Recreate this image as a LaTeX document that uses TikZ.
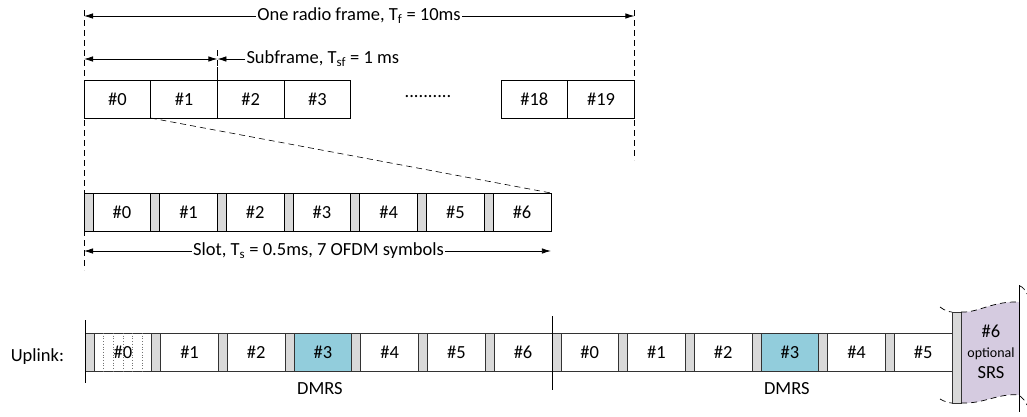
\documentclass[tikz,border=0pt]{standalone}
\usepackage{fontspec}
\setmainfont{Carlito}
\usetikzlibrary{arrows.meta, positioning, calc}
\definecolor{cpgray}{HTML}{D9D9D9}
\definecolor{dmrsblue}{HTML}{92CDDC}
\definecolor{srspurple}{HTML}{D5CBE0}

\begin{document}
\begin{tikzpicture}[
    x=1pt, y=-1pt, line width=0.7pt,
    every node/.style={font=\fontsize{18.5}{21}\selectfont, inner sep=0pt, outer sep=0pt},
    frm/.style={draw, minimum width=66.7pt, minimum height=38pt},
    cpbox/.style={draw, fill=cpgray, minimum width=9pt, minimum height=38pt},
    sym/.style={draw, minimum width=57.7pt, minimum height=38pt},
    ucp/.style={cpbox, draw=black!80},
    usym/.style={sym, draw=black!80, fill=#1},
    usym/.default=white,
    dimarrow/.style={{Latex[length=9pt,width=5.5pt]}-{Latex[length=9pt,width=5.5pt]}, line width=0.8pt},
    onearrow/.style={-{Latex[length=9pt,width=5.5pt]}, line width=0.8pt},
    guide/.style={dash pattern=on 6pt off 4pt, line width=0.6pt},
    dimlabel/.style={fill=white, inner xsep=1.5pt}
]
\useasboundingbox (0,0) rectangle (1027,416);

% Radio frame
\foreach \i/\x in {0/84, 1/150.7, 2/217.4, 3/284.1, 18/501, 19/567.7}
  \node[frm, anchor=north west] (f\i) at (\x,80) {\#\i};
\node (dots) at (428,97) {..........};

\coordinate (fa) at (84,16);
\coordinate (fb) at (634.4,16);
\draw[dimarrow] (fa) -- (fb);
\node[dimlabel] (frame) at (359,16) {One radio frame, T\textsubscript{f} = 10ms};
\draw[guide] (84,10) -- (84,270);
\draw[guide] (634.4,10) -- (634.4,160);

% Subframe
\coordinate (sa) at (84,59);
\coordinate (sb) at (217.4,59);
\draw[dimarrow] (sa) -- (sb);
\node[anchor=west, inner xsep=1.5pt] (sf) at (245,59) {Subframe, T\textsubscript{sf} = 1 ms};
\draw[onearrow] (sf.west) -- (sb);
\draw[guide] (217.4,50) -- (217.4,67);
\draw (217.4,67) -- (f2.north west);

% Slot
\foreach \i in {0,...,6} {
  \node[cpbox, anchor=north west] (cp\i) at ({84+66.7*\i},193) {};
  \node[sym, anchor=west] (s\i) at (cp\i.east) {\#\i};
}
\draw[guide] (f1.south west) -- (s6.north east);

\coordinate (la) at (84,251);
\coordinate (lb) at (s6.east |- la);
\draw[dimarrow] (la) -- (lb);
\node[dimlabel] (slot) at (318.5,251) {Slot, T\textsubscript{s} = 0.5ms, 7 OFDM symbols};

% Uplink
\node[anchor=base east] (ul) at (64,361) {Uplink:};
\foreach \i in {0,...,6} {
  \node[ucp, anchor=north west] (ucp\i) at ({85+66.7*\i},333) {};
  \node[usym, anchor=west] (u\i) at (ucp\i.east) {\#\i};
}
\foreach \i in {0,...,5} {
  \node[ucp, anchor=north west] (vcp\i) at ({551.9+66.7*\i},333) {};
  \node[usym, anchor=west] (v\i) at (vcp\i.east) {\#\i};
}
\node[usym=dmrsblue, anchor=west] at (ucp3.east) {\#3};
\node[usym=dmrsblue, anchor=west] at (vcp3.east) {\#3};
\node[below=11pt of u3, xshift=-3pt] (dm1) {DMRS};
\node[below=11pt of v3, xshift=-3pt] (dm2) {DMRS};

% dotted samples in first symbol
\foreach \k in {1,...,5}
  \draw[dotted, black!55] ($(u0.north west)!\k/6!(u0.north east)$) -- ($(u0.south west)!\k/6!(u0.south east)$);

% slot borders
\draw ($(ucp0.north west)+(0,-13)$) -- ($(ucp0.south west)+(0,12)$);
\draw ($(vcp0.north west)+(0,-17)$) -- ($(vcp0.south west)+(0,19)$);

% SRS symbol
\fill[srspurple] (961.5,312) .. controls (978,313) and (992,301) .. (1019,302)
  -- (1019,395) .. controls (998,393) and (984,404) .. (961.5,403) -- cycle;
\node[cpbox, draw=black!80, minimum height=91pt, anchor=north west] (srscp) at (952.1,312) {};
\draw[guide, line width=0.7pt] (940,307) .. controls (945,311) and (950,312) .. (srscp.north west);
\draw[guide, line width=0.7pt] (srscp.north east) .. controls (978,313) and (992,301) .. (1019,302);
\draw[guide, line width=0.7pt] (940,399) .. controls (945,402) and (950,403) .. (srscp.south west);
\draw[guide, line width=0.7pt] (srscp.south east) .. controls (984,404) and (998,393) .. (1019,395);
\draw[guide, line width=0.7pt] (1020,286) .. controls (1023,287) and (1025,290) .. (1027,294);
\draw[guide, line width=0.7pt] (1020,396) .. controls (1023,398) and (1025,401) .. (1027,405);
\draw (1019,285) -- (1019,412);
\node (srs6) at (991,331) {\#6};
\node[font=\fontsize{14}{16}\selectfont] (srsopt) at (991,354) {optional};
\node (srs) at (991,373) {SRS};

\end{tikzpicture}
\end{document}
